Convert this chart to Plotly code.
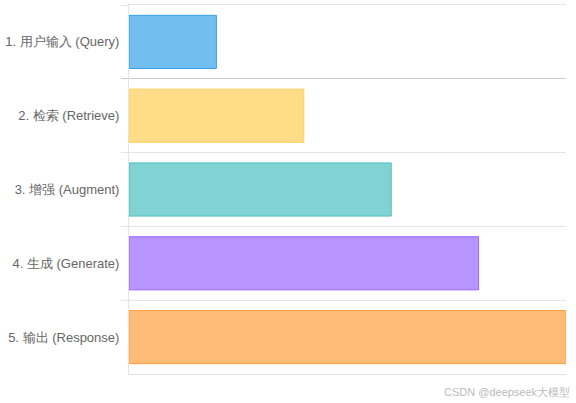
import plotly.graph_objects as go

steps = ['1. 用户输入 (Query)', '2. 检索 (Retrieve)', '3. 增强 (Augment)',
         '4. 生成 (Generate)', '5. 输出 (Response)']
values = [1, 2, 3, 4, 5]
fill_colors = ['rgba(54,162,235,0.7)', 'rgba(255,206,86,0.7)', 'rgba(75,192,192,0.7)',
               'rgba(153,102,255,0.7)', 'rgba(255,159,64,0.7)']
line_colors = ['rgba(54,162,235,1)', 'rgba(255,206,86,1)', 'rgba(75,192,192,1)',
               'rgba(153,102,255,1)', 'rgba(255,159,64,1)']

grid = 'rgba(0,0,0,0.1)'

fig = go.Figure(go.Bar(
    x=values,
    y=steps,
    orientation='h',
    width=0.72,
    marker=dict(color=fill_colors, line=dict(color=line_colors, width=1)),
))

fig.update_layout(
    width=576,
    height=403,
    margin=dict(l=129, r=10, t=5, b=29),
    paper_bgcolor='white',
    plot_bgcolor='white',
    showlegend=False,
    hovermode=False,
    font=dict(family='Liberation Sans, Arial, sans-serif', size=13, color='#666'),
)

fig.update_yaxes(
    type='category',
    autorange='reversed',
    tickson='boundaries',
    ticks='outside',
    ticklen=7,
    tickcolor=grid,
    showgrid=True,
    gridcolor=grid,
    gridwidth=1,
    zeroline=False,
    showline=True,
    linecolor=grid,
    ticklabelstandoff=6,
)

# top and bottom boundary lines
fig.update_xaxes(
    range=[0, 5],
    showticklabels=False,
    showgrid=False,
    zeroline=False,
    showline=True,
    mirror=True,
    linecolor=grid,
)

fig.add_annotation(
    text='CSDN @deepseek大模型',
    xref='paper', yref='paper',
    x=1.013, y=-0.049,
    xanchor='right', yanchor='middle',
    showarrow=False,
    font=dict(size=11, color='#bbb'),
)

fig.write_html('out.html', config={'displayModeBar': False},
               post_script="document.body.style.margin='0';")
